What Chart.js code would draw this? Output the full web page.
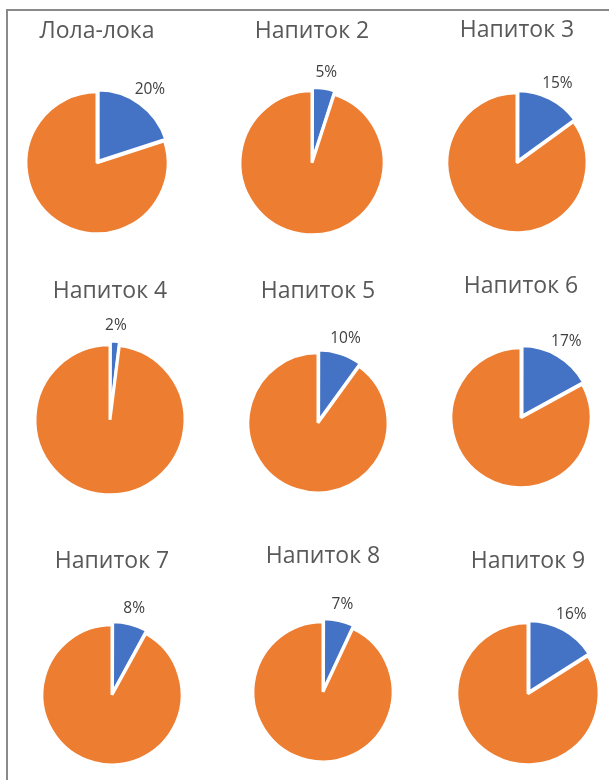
<!DOCTYPE html>
<html>
<head>
<meta charset="utf-8">
<script src="https://cdn.jsdelivr.net/npm/chart.js@4.4.0/dist/chart.umd.min.js"></script>
<style>
    html, body { margin: 0; padding: 0; background: #fff; overflow: hidden; }
    #sheet { position: relative; width: 609px; height: 780px; overflow: hidden; }
    #rama {
        position: absolute; left: 6px; top: 9px; width: 700px; height: 900px;
        border-left: 2px solid #8a8a8a; border-top: 2px solid #8a8a8a;
    }
    canvas { position: absolute; }
</style>
</head>
<body>
<div id="sheet"><div id="rama"></div></div>
<script>
// Названия напитков (заголовки диаграмм)
const titulos = ['Лола-лока', 'Напиток 2', 'Напиток 3', 'Напиток 4', 'Напиток 5',
                 'Напиток 6', 'Напиток 7', 'Напиток 8', 'Напиток 9'];
// Категории секторов
const categorias = ['Выбрали', 'Остальные'];
// Доля (синий сектор), %
const parcelas = [20, 5, 15, 2, 10, 17, 8, 7, 16];
// Остаток (оранжевый сектор), %
const restos = [80, 95, 85, 98, 90, 83, 92, 93, 84];

// Положение каждой диаграммы на листе: центр заголовка/круга и радиус
const posicoes = [
    { x: 97,  ty: 32,  cy: 163, r: 71 },
    { x: 312, ty: 32,  cy: 163, r: 72 },
    { x: 517, ty: 31,  cy: 163, r: 70 },
    { x: 110, ty: 292, cy: 420, r: 75 },
    { x: 318, ty: 292, cy: 423, r: 70 },
    { x: 521, ty: 287, cy: 418, r: 70 },
    { x: 112, ty: 562, cy: 695, r: 70 },
    { x: 323, ty: 557, cy: 692, r: 70 },
    { x: 528, ty: 562, cy: 694, r: 71 }
];

const FONTE = "'Open Sans', 'Noto Sans', sans-serif";
const TAM_TITULO = 23;
const ALT_TITULO = TAM_TITULO * 1.2;

// Подпись процента снаружи синего сектора
const rotuloPercentual = {
    id: 'rotuloPercentual',
    afterDatasetsDraw(chart, args, opts) {
        const arc = chart.getDatasetMeta(0).data[0];
        const meio = (arc.startAngle + arc.endAngle) / 2;
        const dist = arc.outerRadius + opts.distancia;
        const ctx = chart.ctx;
        ctx.save();
        ctx.font = '15.5px ' + FONTE;
        ctx.fillStyle = '#404040';
        ctx.textAlign = 'center';
        ctx.textBaseline = 'middle';
        ctx.fillText(chart.data.datasets[0].data[0] + '%',
            arc.x + Math.cos(meio) * dist, arc.y + Math.sin(meio) * dist);
        ctx.restore();
    }
};

const folha = document.getElementById('sheet');

titulos.forEach((titulo, i) => {
    const p = posicoes[i];
    const largura = 200;
    const topo = Math.round(p.ty - ALT_TITULO / 2);
    const altura = Math.round(ALT_TITULO + 2 * (p.cy - topo - ALT_TITULO));

    const canvas = document.createElement('canvas');
    canvas.width = largura;
    canvas.height = altura;
    canvas.style.left = Math.round(p.x - largura / 2) + 'px';
    canvas.style.top = topo + 'px';
    folha.appendChild(canvas);

    new Chart(canvas.getContext('2d'), {
        type: 'pie',
        data: {
            labels: categorias,
            datasets: [{
                data: [parcelas[i], restos[i]],
                backgroundColor: ['#4472C4', '#ED7D31'],
                borderColor: '#FFFFFF',
                borderWidth: 3,
                offset: [8, 0], // синий сектор выдвинут
                radius: p.r
            }]
        },
        options: {
            responsive: false,
            animation: false,
            devicePixelRatio: 1,
            layout: { padding: 0 },
            plugins: {
                legend: { display: false },
                tooltip: { enabled: false },
                title: {
                    display: true,
                    text: titulo,
                    color: '#595959',
                    font: { family: FONTE, size: TAM_TITULO, weight: 'normal' },
                    padding: 0
                },
                rotuloPercentual: { distancia: 19 }
            }
        },
        plugins: [rotuloPercentual]
    });
});
</script>
</body>
</html>
